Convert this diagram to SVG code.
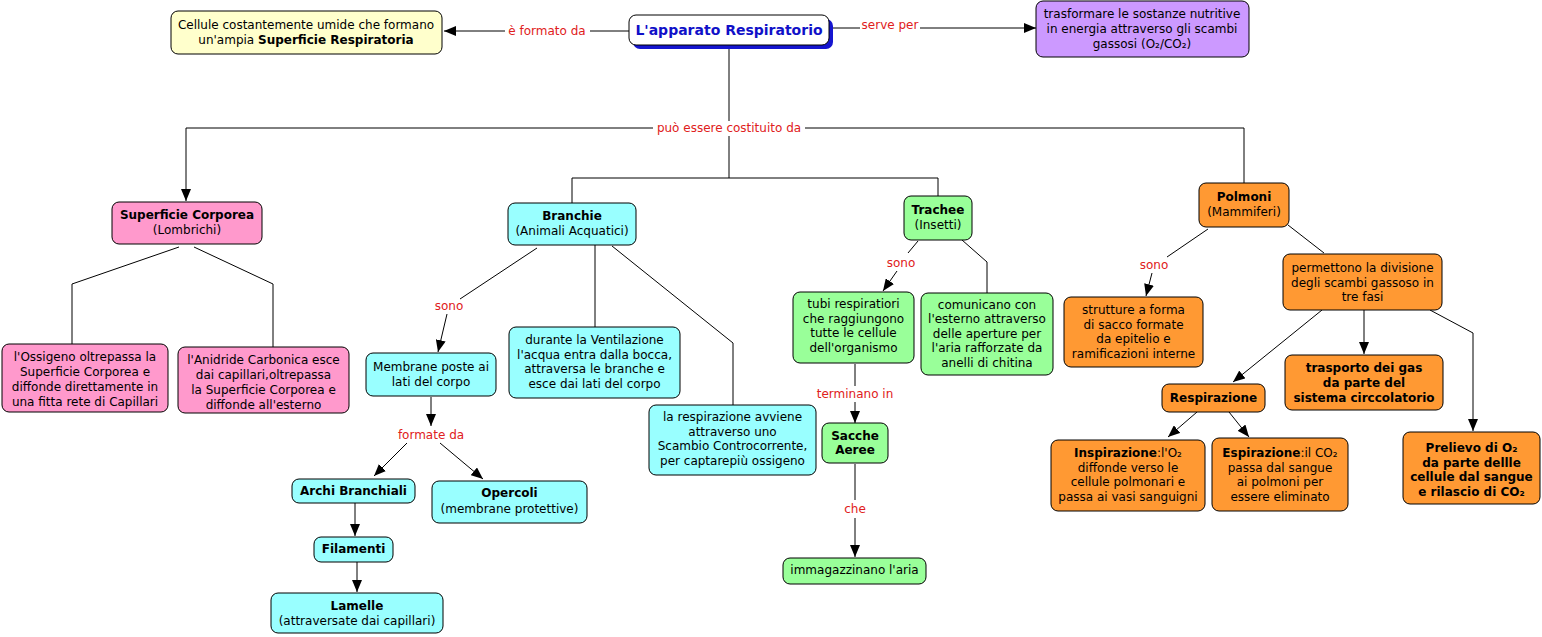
<svg xmlns="http://www.w3.org/2000/svg" width="1542" height="637" viewBox="0 0 1542 637">
<style>
.n{stroke:#000;stroke-width:1}
.y{fill:#FFFFCC}.p{fill:#CC99FF}.k{fill:#FF99CC}.c{fill:#99FFFF}.g{fill:#99FF99}.o{fill:#FF9933}
text{font-family:"DejaVu Sans","Verdana",sans-serif;font-size:12px;fill:#000;text-anchor:middle}
.b{font-weight:bold}
.l{fill:#E02020}
.ln{fill:none;stroke:#000;stroke-width:1}
.ar{marker-end:url(#a)}
</style>
<defs>
<marker id="a" viewBox="0 0 12 10" refX="12" refY="5" markerWidth="12" markerHeight="10" markerUnits="userSpaceOnUse" orient="auto">
<path d="M0,0 L12,5 L0,10 z" fill="#000"/>
</marker>
</defs>
<rect width="1542" height="637" fill="#fff"/>
<g id="connectors">
<path class="ln" d="M629,31 H590"/>
<path class="ln ar" d="M505,31 H444"/>
<text class="l" x="547" y="35">è formato da</text>
<path class="ln" d="M833,28 H860"/>
<path class="ln ar" d="M920,28 H1036"/>
<text class="l" x="890" y="29">serve per</text>
<path class="ln" d="M729,49 V121"/>
<text class="l" x="729" y="132">può essere costituito da</text>
<path class="ln ar" d="M653,128 H186 V201"/>
<path class="ln" d="M805,128 H1244 V183"/>
<path class="ln" d="M729,136 V178 M572,178 H938 M572,178 V203 M938,178 V196"/>
<path class="ln" d="M179,247 L72,284 V344 M194,247 L273,284 V347"/>
<path class="ln" d="M537,248 L460,299"/>
<text class="l" x="449" y="310">sono</text>
<path class="ln ar" d="M447,314 L438,352"/>
<path class="ln" d="M595,245 V327 M612,246 L733,343 V405"/>
<path class="ln ar" d="M431,397 V426"/>
<text class="l" x="431" y="439">formate da</text>
<path class="ln ar" d="M407,443 L374,476"/>
<path class="ln ar" d="M440,443 L483,479"/>
<path class="ln ar" d="M355,503 V536"/>
<path class="ln ar" d="M357,562 V592"/>
<path class="ln" d="M918,241 L908,253"/>
<text class="l" x="901" y="267">sono</text>
<path class="ln ar" d="M897,271 L883,291"/>
<path class="ln" d="M962,240 L987,262 V293"/>
<path class="ln" d="M855,364 V386"/>
<text class="l" x="855" y="398">terminano in</text>
<path class="ln ar" d="M855,402 V423"/>
<path class="ln" d="M855,464 V500"/>
<text class="l" x="855" y="513">che</text>
<path class="ln ar" d="M855,518 V557"/>
<path class="ln" d="M1208,229 L1167,257"/>
<text class="l" x="1154" y="269">sono</text>
<path class="ln ar" d="M1152,273 L1146,296"/>
<path class="ln" d="M1288,225 L1324,253"/>
<path class="ln ar" d="M1364,310 V354"/>
<path class="ln ar" d="M1322,310 L1233,382"/>
<path class="ln ar" d="M1430,310 L1473,333 V431"/>
<path class="ln ar" d="M1197,412 L1168,437"/>
<path class="ln ar" d="M1229,412 L1249,437"/>
</g>
<g id="main">
<rect x="633" y="19" width="200" height="30" rx="7" fill="#1515D0"/>
<rect class="n" x="629" y="15" width="200" height="30" rx="7" fill="#fff"/>
<text class="b" x="729" y="35" style="font-size:14px;fill:#1010C8">L'apparato Respiratorio</text>
</g>
<g id="superficie-respiratoria">
<rect class="n y" x="171" y="11" width="271" height="43" rx="7"/>
<text x="306" y="29">Cellule costantemente umide che formano</text>
<text x="306" y="44">un'ampia <tspan class="b">Superficie Respiratoria</tspan></text>
</g>
<g id="trasformare">
<rect class="n p" x="1036" y="1" width="213" height="56" rx="7"/>
<text x="1142" y="18">trasformare le sostanze nutritive</text>
<text x="1142" y="33">in energia attraverso gli scambi</text>
<text x="1142" y="48">gassosi (O₂/CO₂)</text>
</g>
<g id="superficie-corporea">
<rect class="n k" x="112" y="202" width="150" height="42" rx="7"/>
<text class="b" x="187" y="219">Superficie Corporea</text>
<text x="187" y="234">(Lombrichi)</text>
</g>
<g id="ossigeno">
<rect class="n k" x="2" y="344" width="166" height="68" rx="7"/>
<text x="85" y="361">l'Ossigeno oltrepassa la</text>
<text x="85" y="376">Superficie Corporea e</text>
<text x="85" y="391">diffonde direttamente in</text>
<text x="85" y="406">una fitta rete di Capillari</text>
</g>
<g id="anidride">
<rect class="n k" x="178" y="347" width="171" height="66" rx="7"/>
<text x="263.5" y="364">l'Anidride Carbonica esce</text>
<text x="263.5" y="379">dai capillari,oltrepassa</text>
<text x="263.5" y="394">la Superficie Corporea e</text>
<text x="263.5" y="409">diffonde all'esterno</text>
</g>
<g id="branchie">
<rect class="n c" x="508" y="203" width="128" height="42" rx="7"/>
<text class="b" x="572" y="220">Branchie</text>
<text x="572" y="235">(Animali Acquatici)</text>
</g>
<g id="membrane">
<rect class="n c" x="366" y="353" width="130" height="43" rx="7"/>
<text x="431" y="371">Membrane poste ai</text>
<text x="431" y="386">lati del corpo</text>
</g>
<g id="ventilazione">
<rect class="n c" x="509" y="327" width="171" height="71" rx="7"/>
<text x="594.5" y="344">durante la Ventilazione</text>
<text x="594.5" y="359">l'acqua entra dalla bocca,</text>
<text x="594.5" y="373">attraversa le branche e</text>
<text x="594.5" y="388">esce dai lati del corpo</text>
</g>
<g id="controcorrente">
<rect class="n c" x="649" y="405" width="167" height="70" rx="7"/>
<text x="732.5" y="421">la respirazione avviene</text>
<text x="732.5" y="436">attraverso uno</text>
<text x="732.5" y="450">Scambio Controcorrente,</text>
<text x="732.5" y="465">per captarepiù ossigeno</text>
</g>
<g id="archi">
<rect class="n c" x="292" y="479" width="123" height="24" rx="7"/>
<text class="b" x="353.5" y="495">Archi Branchiali</text>
</g>
<g id="opercoli">
<rect class="n c" x="432" y="481" width="155" height="42" rx="7"/>
<text class="b" x="509.5" y="497">Opercoli</text>
<text x="509.5" y="513">(membrane protettive)</text>
</g>
<g id="filamenti">
<rect class="n c" x="314" y="537" width="79" height="25" rx="7"/>
<text class="b" x="353.5" y="553">Filamenti</text>
</g>
<g id="lamelle">
<rect class="n c" x="271" y="593" width="172" height="40" rx="7"/>
<text class="b" x="357" y="610">Lamelle</text>
<text x="357" y="625">(attraversate dai capillari)</text>
</g>
<g id="trachee">
<rect class="n g" x="904" y="196" width="68" height="44" rx="7"/>
<text class="b" x="938" y="214">Trachee</text>
<text x="938" y="229">(Insetti)</text>
</g>
<g id="tubi">
<rect class="n g" x="793" y="292" width="121" height="71" rx="7"/>
<text x="853.5" y="308">tubi respiratiori</text>
<text x="853.5" y="323">che raggiungono</text>
<text x="853.5" y="337">tutte le cellule</text>
<text x="853.5" y="352">dell'organismo</text>
</g>
<g id="comunicano">
<rect class="n g" x="921" y="293" width="132" height="82" rx="7"/>
<text x="987" y="309">comunicano con</text>
<text x="987" y="323">l'esterno attraverso</text>
<text x="987" y="338">delle aperture per</text>
<text x="987" y="352">l'aria rafforzate da</text>
<text x="987" y="367">anelli di chitina</text>
</g>
<g id="sacche">
<rect class="n g" x="822" y="423" width="66" height="40" rx="7"/>
<text class="b" x="855" y="440">Sacche</text>
<text class="b" x="855" y="454">Aeree</text>
</g>
<g id="immagazzinano">
<rect class="n g" x="783" y="558" width="143" height="26" rx="7"/>
<text x="854.5" y="574">immagazzinano l'aria</text>
</g>
<g id="polmoni">
<rect class="n o" x="1199" y="183" width="90" height="44" rx="7"/>
<text class="b" x="1244" y="201">Polmoni</text>
<text x="1244" y="216">(Mammiferi)</text>
</g>
<g id="strutture">
<rect class="n o" x="1064" y="297" width="139" height="70" rx="7"/>
<text x="1133.5" y="314">strutture a forma</text>
<text x="1133.5" y="329">di sacco formate</text>
<text x="1133.5" y="343">da epitelio e</text>
<text x="1133.5" y="358">ramificazioni interne</text>
</g>
<g id="permettono">
<rect class="n o" x="1283" y="254" width="159" height="56" rx="7"/>
<text x="1362.5" y="272">permettono la divisione</text>
<text x="1362.5" y="287">degli scambi gassoso in</text>
<text x="1362.5" y="301">tre fasi</text>
</g>
<g id="trasporto">
<rect class="n o" x="1285" y="355" width="158" height="55" rx="7"/>
<text class="b" x="1364" y="372">trasporto dei gas</text>
<text class="b" x="1364" y="387">da parte del</text>
<text class="b" x="1364" y="402">sistema circcolatorio</text>
</g>
<g id="respirazione">
<rect class="n o" x="1162" y="384" width="103" height="28" rx="7"/>
<text class="b" x="1213.5" y="402">Respirazione</text>
</g>
<g id="inspirazione">
<rect class="n o" x="1051" y="440" width="154" height="71" rx="7"/>
<text x="1128" y="457"><tspan class="b">Inspirazione</tspan>:l'O₂</text>
<text x="1128" y="472">diffonde verso le</text>
<text x="1128" y="486">cellule polmonari e</text>
<text x="1128" y="501">passa ai vasi sanguigni</text>
</g>
<g id="espirazione">
<rect class="n o" x="1212" y="438" width="136" height="73" rx="7"/>
<text x="1280" y="457"><tspan class="b">Espirazione</tspan>:il CO₂</text>
<text x="1280" y="472">passa dal sangue</text>
<text x="1280" y="486">ai polmoni per</text>
<text x="1280" y="501">essere eliminato</text>
</g>
<g id="prelievo">
<rect class="n o" x="1403" y="432" width="137" height="72" rx="7"/>
<text class="b" x="1471.5" y="452">Prelievo di O₂</text>
<text class="b" x="1471.5" y="467">da parte dellle</text>
<text class="b" x="1471.5" y="481">cellule dal sangue</text>
<text class="b" x="1471.5" y="496">e rilascio di CO₂</text>
</g>
</svg>
